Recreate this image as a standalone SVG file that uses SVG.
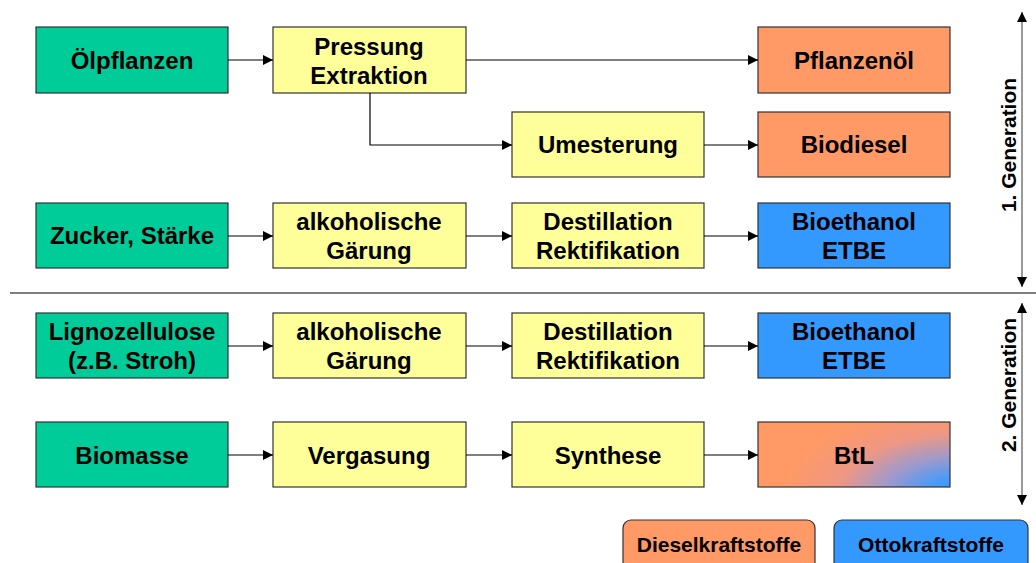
<svg xmlns="http://www.w3.org/2000/svg" width="1036" height="563" viewBox="0 0 1036 563">
<defs>
<marker id="ah" viewBox="0 0 10 10" refX="10" refY="5" markerWidth="10" markerHeight="10" markerUnits="userSpaceOnUse" orient="auto"><path d="M0,0 L10,5 L0,10 z" fill="#000"/></marker>
<marker id="ah2" viewBox="0 0 10 10" refX="10" refY="5" markerWidth="12" markerHeight="10" markerUnits="userSpaceOnUse" orient="auto-start-reverse"><path d="M0,0 L10,5 L0,10 z" fill="#000"/></marker>
<radialGradient id="btl" gradientUnits="userSpaceOnUse" cx="960" cy="495" r="175" gradientTransform="translate(960,495) scale(1,0.5) translate(-960,-495)">
<stop offset="0" stop-color="#3399FF"/>
<stop offset="0.2" stop-color="#4A9AF8"/>
<stop offset="0.45" stop-color="#A39AC8"/>
<stop offset="0.7" stop-color="#EE9784"/>
<stop offset="1" stop-color="#FF9966"/>
</radialGradient>
</defs>
<style>
.b{stroke:#333;stroke-width:1.2}
.g{fill:#00CC99}.y{fill:#FFFF99}.o{fill:#FF9966}.u{fill:#3399FF}
.t{font-family:"Liberation Sans",Arial,sans-serif;font-weight:bold;font-size:24px;fill:#000;text-anchor:middle}
.s{font-size:21px}
.c{stroke:#000;stroke-width:1.2;fill:none}
</style>
<g id="n1"><rect class="b g" x="36" y="27" width="192" height="66"/><text class="t" x="132" y="69">Ölpflanzen</text></g>
<g id="n2"><rect class="b y" x="273" y="27" width="193" height="66"/><text class="t" x="369" y="55">Pressung</text><text class="t" x="369" y="84">Extraktion</text></g>
<g id="n3"><rect class="b o" x="758" y="27" width="192" height="66"/><text class="t" x="854" y="69">Pflanzenöl</text></g>
<g id="n4"><rect class="b y" x="512" y="112" width="192" height="65"/><text class="t" x="608" y="153">Umesterung</text></g>
<g id="n5"><rect class="b o" x="758" y="112" width="192" height="65"/><text class="t" x="854" y="153">Biodiesel</text></g>
<g id="n6"><rect class="b g" x="36" y="203" width="192" height="65"/><text class="t" x="132" y="244">Zucker, Stärke</text></g>
<g id="n7"><rect class="b y" x="273" y="203" width="193" height="65"/><text class="t" x="369" y="230">alkoholische</text><text class="t" x="369" y="259">Gärung</text></g>
<g id="n8"><rect class="b y" x="512" y="203" width="192" height="65"/><text class="t" x="608" y="230">Destillation</text><text class="t" x="608" y="259">Rektifikation</text></g>
<g id="n9"><rect class="b u" x="758" y="203" width="192" height="65"/><text class="t" x="854" y="230">Bioethanol</text><text class="t" x="854" y="259">ETBE</text></g>
<g id="n10"><rect class="b g" x="36" y="313" width="192" height="65"/><text class="t" x="132" y="340">Lignozellulose</text><text class="t" x="132" y="369">(z.B. Stroh)</text></g>
<g id="n11"><rect class="b y" x="273" y="313" width="193" height="65"/><text class="t" x="369" y="340">alkoholische</text><text class="t" x="369" y="369">Gärung</text></g>
<g id="n12"><rect class="b y" x="512" y="313" width="192" height="65"/><text class="t" x="608" y="340">Destillation</text><text class="t" x="608" y="369">Rektifikation</text></g>
<g id="n13"><rect class="b u" x="758" y="313" width="192" height="65"/><text class="t" x="854" y="340">Bioethanol</text><text class="t" x="854" y="369">ETBE</text></g>
<g id="n14"><rect class="b g" x="36" y="422" width="192" height="65"/><text class="t" x="132" y="464">Biomasse</text></g>
<g id="n15"><rect class="b y" x="273" y="422" width="193" height="65"/><text class="t" x="369" y="464">Vergasung</text></g>
<g id="n16"><rect class="b y" x="512" y="422" width="192" height="65"/><text class="t" x="608" y="464">Synthese</text></g>
<g id="n17"><rect class="b" fill="url(#btl)" x="758" y="422" width="192" height="65"/><text class="t" x="854" y="464">BtL</text></g>
<g id="legend">
<rect class="b o" x="623" y="520" width="192" height="50" rx="8"/><text class="t s" x="719" y="552">Dieselkraftstoffe</text>
<rect class="b u" x="834" y="520" width="194" height="50" rx="8"/><text class="t s" x="931" y="552">Ottokraftstoffe</text>
</g>
<g id="gen">
<line x1="10" y1="293" x2="1036" y2="293" stroke="#000" stroke-width="1.2"/>
<line x1="1022" y1="12" x2="1022" y2="287" stroke="#555" stroke-width="1.2" marker-start="url(#ah2)" marker-end="url(#ah2)"/>
<line x1="1022" y1="303" x2="1022" y2="505" stroke="#555" stroke-width="1.2" marker-start="url(#ah2)" marker-end="url(#ah2)"/>
<text class="t s" transform="translate(1016,145) rotate(-90)">1. Generation</text>
<text class="t s" transform="translate(1016,385) rotate(-90)">2. Generation</text>
</g>
<g id="connectors">
<line class="c" x1="228" y1="60" x2="273" y2="60" marker-end="url(#ah)"/>
<line class="c" x1="466" y1="60" x2="758" y2="60" marker-end="url(#ah)"/>
<polyline class="c" points="370,93 370,145 512,145" marker-end="url(#ah)"/>
<line class="c" x1="704" y1="145" x2="758" y2="145" marker-end="url(#ah)"/>
<line class="c" x1="228" y1="236" x2="273" y2="236" marker-end="url(#ah)"/>
<line class="c" x1="466" y1="236" x2="512" y2="236" marker-end="url(#ah)"/>
<line class="c" x1="704" y1="236" x2="758" y2="236" marker-end="url(#ah)"/>
<line class="c" x1="228" y1="346" x2="273" y2="346" marker-end="url(#ah)"/>
<line class="c" x1="466" y1="346" x2="512" y2="346" marker-end="url(#ah)"/>
<line class="c" x1="704" y1="346" x2="758" y2="346" marker-end="url(#ah)"/>
<line class="c" x1="228" y1="455" x2="273" y2="455" marker-end="url(#ah)"/>
<line class="c" x1="466" y1="455" x2="512" y2="455" marker-end="url(#ah)"/>
<line class="c" x1="704" y1="455" x2="758" y2="455" marker-end="url(#ah)"/>
</g>
</svg>
